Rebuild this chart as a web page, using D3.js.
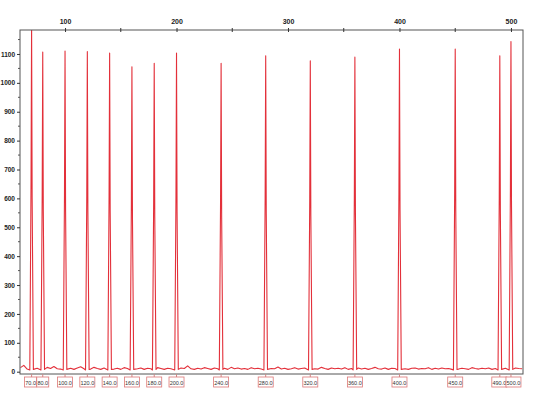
<!DOCTYPE html>
<html><head><meta charset="utf-8">
<script src="https://cdn.jsdelivr.net/npm/d3@7/dist/d3.min.js"></script>
<style>body{margin:0;background:#fff}svg{display:block}</style>
</head><body>
<svg id="c" width="540" height="400"></svg>
<script>
// ---- data ----
const peakSizes = [70,80,100,120,140,160,180,200,240,280,320,360,400,450,490,500];
const peakHeights = [1200,1107,1110,1108,1103,1056,1068,1103,1068,1094,1076,1089,1117,1117,1094,1143];
const peakLabels = ["70.0","80.0","100.0","120.0","140.0","160.0","180.0","200.0","240.0","280.0","320.0","360.0","400.0","450.0","490.0","500.0"];
const xMajorTicks = [100,200,300,400,500];
const xMinorTicks = [150,250,350,450];
const yMajorTicks = [0,100,200,300,400,500,600,700,800,900,1000,1100];
const yMinorTicks = [50,150,250,350,450,550,650,750,850,950,1050,1150];
// baseline noise sampled every 3 size units from 60
const baseStart = 60, baseStep = 3;
const baseValues = [
 14,22,9,28,16,12,20,8,15,11,18,10,9,14,22,12,8,13,17,10,
 12,9,15,11,8,13,10,16,9,12,8,14,11,9,15,10,13,8,12,10,
 9,14,11,8,12,10,15,9,13,11,20,10,8,12,9,14,11,8,13,10,
 9,12,8,15,10,13,9,11,8,14,10,12,9,8,13,11,10,16,9,12,
 8,10,14,9,11,13,8,12,10,9,15,11,8,13,10,12,9,14,8,11,
 10,13,9,12,8,11,15,10,9,13,8,12,11,9,14,10,8,12,13,9,
 11,10,14,8,12,9,13,10,11,8,15,9,12,10,8,14,11,9,12,10,
 13,8,11,16,9,12,10,8,13,11,10];

// ---- layout ----
const svg = d3.select("#c");
const L = 20, R = 523, T = 30, B = 374;
const x = d3.scaleLinear().domain([59.6, 510.8]).range([L, R]);
const y = d3.scaleLinear().domain([-8, 1183]).range([B, T]);
const red = "#e3303a";

svg.append("clipPath").attr("id","clip").append("rect")
  .attr("x", L).attr("y", T).attr("width", R-L).attr("height", B-T);

// trace points
let pts = [];
baseValues.forEach((v,i) => {
  const s = baseStart + i*baseStep;
  if (!peakSizes.some(p => Math.abs(p - s) < 2.2)) pts.push([s, v]);
});
peakSizes.forEach((s,i) => {
  pts.push([s-1.6, 6]);
  pts.push([s-0.5, peakHeights[i]*0.55]);
  pts.push([s, peakHeights[i]]);
  pts.push([s+0.5, peakHeights[i]*0.5]);
  pts.push([s+1.6, 8]);
});
pts.sort((a,b) => a[0]-b[0]);
const line = d3.line().x(d => x(d[0])).y(d => y(d[1]));
svg.append("path").attr("clip-path","url(#clip)")
  .attr("d", line(pts)).attr("fill","none").attr("stroke", red)
  .attr("stroke-width", 1.1).attr("stroke-linejoin","round");

// frame
svg.append("rect").attr("x", L).attr("y", T).attr("width", R-L).attr("height", B-T)
  .attr("fill","none").attr("stroke","#555").attr("stroke-width",1);

const fontFam = "Liberation Sans, Arial, sans-serif";
// top axis
const topAxis = d3.axisTop(x).tickValues(xMajorTicks).tickSize(3).tickPadding(3).tickFormat(d3.format("d"));
const gt = svg.append("g").attr("transform",`translate(0,${T})`).call(topAxis);
gt.select(".domain").remove();
gt.selectAll(".tick line").attr("y2",-2).attr("y1",2).attr("stroke","#333");
gt.selectAll("text").attr("font-family",fontFam).attr("font-size",7)
  .attr("font-weight","bold").attr("fill","#222").attr("y",-6);
svg.append("g").selectAll("line").data(xMinorTicks).join("line")
  .attr("x1", d=>x(d)).attr("x2", d=>x(d)).attr("y1", T-2).attr("y2", T+2).attr("stroke","#333");

// left axis
const leftAxis = d3.axisLeft(y).tickValues(yMajorTicks).tickSize(3).tickPadding(2).tickFormat(d3.format("d"));
const gl = svg.append("g").attr("transform",`translate(${L},0)`).call(leftAxis);
gl.select(".domain").remove();
gl.selectAll(".tick line").attr("stroke","#333");
gl.selectAll("text").attr("font-family",fontFam).attr("font-size",6.5)
  .attr("font-weight","bold").attr("fill","#222");
svg.append("g").selectAll("line").data(yMinorTicks).join("line")
  .attr("x1", L-2).attr("x2", L).attr("y1", d=>y(d)).attr("y2", d=>y(d)).attr("stroke","#555");

// peak labels
const lg = svg.append("g");
peakSizes.forEach((s,i) => {
  const cx = x(s);
  let w = peakLabels[i].length > 4 ? 15 : 12;
  let bx = cx - w/2;
  if (s === 70) bx = x(70) - 7;
  if (s === 80) bx = x(80) - 6;
  if (s === 490) bx = x(490) - 8;
  if (s === 500) bx = x(500) - 5;
  lg.append("line").attr("x1",cx).attr("x2",cx).attr("y1",B).attr("y2",377).attr("stroke","#c88");
  lg.append("rect").attr("x",bx).attr("y",377).attr("width",w).attr("height",10)
    .attr("fill","#fff").attr("stroke","#d77").attr("stroke-width",0.8);
  lg.append("text").attr("x",bx+w/2).attr("y",384.5).attr("text-anchor","middle")
    .attr("font-family",fontFam).attr("font-size",5.5).attr("fill","#333")
    .text(peakLabels[i]);
});
</script>
</body></html>
